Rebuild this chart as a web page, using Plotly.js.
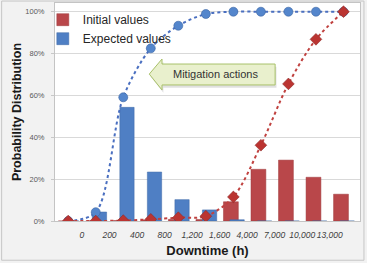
<!DOCTYPE html>
<html>
<head>
<meta charset="utf-8">
<script src="https://cdn.plot.ly/plotly-3.0.1.min.js"></script>
<style>
  html, body { margin: 0; padding: 0; background: #ffffff; }
  #chart { width: 367px; height: 263px; }
</style>
</head>
<body>
<div id="chart"></div>
<script>
// Bin index of each point (0..10); tick labels sit on the boundaries between bins
const binIndex = [0, 1, 2, 3, 4, 5, 6, 7, 8, 9, 10];
const boundaryLabels = ["0", "200", "400", "800", "1,200", "1,600", "4,000", "7,000", "10,000", "13,000"];
const yTickValues = [0, 20, 40, 60, 80, 100];
const yTickLabels = ["0%", "20%", "40%", "60%", "80%", "100%"];

// Probability per bin (%)
const initialValues  = [0, 0, 0.2, 0.5, 0.8, 0.7, 9.2, 24.7, 29.1, 20.9, 12.8];
const expectedValues = [0, 4.3, 54.3, 23.4, 10.2, 5.3, 0.6, 0, 0, 0, 0];

// Cumulative distributions (%)
const initialCumulative  = [0, 0, 0.2, 0.8, 1.6, 2.3, 11.5, 36.2, 65.5, 86.8, 100];
const expectedCumulative = [0, 4.2, 59.1, 82.5, 93.3, 98.9, 100, 100, 100, 100, 100];

const boundaryPositions = boundaryLabels.map((_, i) => i + 0.5);

const RED = '#b9474a';
const BLUE = '#4f7fc4';

const traces = [
  {
    type: 'bar', name: 'Initial values', x: binIndex, y: initialValues,
    width: 0.54, offset: -0.36,
    marker: { color: RED, line: { color: '#9e3a3c', width: 0.5 } },
    hoverinfo: 'skip'
  },
  {
    type: 'bar', name: 'Expected values', x: binIndex, y: expectedValues,
    width: 0.52, offset: -0.125,
    marker: { color: BLUE, line: { color: '#3f68a6', width: 0.5 } },
    hoverinfo: 'skip'
  },
  {
    type: 'scatter', mode: 'lines+markers', name: 'Expected cumulative',
    x: binIndex, y: expectedCumulative, showlegend: false,
    line: { color: '#4a6fc0', width: 2, dash: 'dot', shape: 'spline', smoothing: 0.9 },
    marker: { symbol: 'circle', size: 9, color: '#5486cc', line: { color: '#3b64a3', width: 0.6 } },
    hoverinfo: 'skip'
  },
  {
    type: 'scatter', mode: 'lines+markers', name: 'Initial cumulative',
    x: binIndex, y: initialCumulative, showlegend: false,
    line: { color: '#c0413f', width: 2, dash: 'dot', shape: 'spline', smoothing: 0.9 },
    marker: { symbol: 'diamond', size: 9, color: '#bb3431', line: { color: '#8f2a28', width: 0.6 } },
    hoverinfo: 'skip'
  }
];

const FONT = 'Liberation Sans, Arial, sans-serif';

const layout = {
  width: 367, height: 263,
  margin: { l: 55, r: 7, t: 3, b: 42 },
  paper_bgcolor: '#f2f2f2',
  plot_bgcolor: '#ffffff',
  font: { family: FONT, color: '#404040' },
  barmode: 'overlay',
  showlegend: true,
  legend: {
    x: -0.04, y: 0.99, xanchor: 'left', yanchor: 'top',
    bgcolor: 'rgba(0,0,0,0)', borderwidth: 0,
    font: { size: 12, color: '#262626', family: FONT },
    traceorder: 'normal', tracegroupgap: 0,
    itemwidth: 30
  },
  xaxis: {
    range: [-0.48, 10.6],
    tickmode: 'array', tickvals: boundaryPositions, ticktext: boundaryLabels,
    tickangle: 0,
    tickfont: { size: 8.5, style: 'italic', color: '#404040' },
    ticks: 'outside', ticklen: 6, tickcolor: 'rgba(0,0,0,0)',
    showgrid: false, zeroline: false,
    showline: true, mirror: true, linecolor: '#c4c4c4', linewidth: 1,
    title: { text: 'Downtime (h)', font: { size: 13, weight: 'bold', color: '#1a1a1a' }, standoff: 6 },
    fixedrange: true
  },
  yaxis: {
    range: [0, 104.16],
    tickmode: 'array', tickvals: yTickValues, ticktext: yTickLabels,
    tickfont: { size: 7.5, color: '#595959' },
    ticks: 'outside', ticklen: 3, tickcolor: '#c8c8c8',
    ticklabelstandoff: 5,
    showgrid: true, gridcolor: '#d9d9d9', gridwidth: 1,
    zeroline: false,
    showline: true, mirror: true, linecolor: '#c4c4c4', linewidth: 1,
    title: { text: 'Probability Distribution', font: { size: 12.5, weight: 'bold', color: '#1a1a1a' }, standoff: 0 },
    fixedrange: true
  },
  shapes: [
    // outer chart frame
    { type: 'rect', xref: 'paper', yref: 'paper', x0: -0.175, x1: 1.013, y0: -0.18, y1: 1.009,
      line: { color: '#c6c6c6', width: 1 }, fillcolor: 'rgba(0,0,0,0)', layer: 'below' },
    // "Mitigation actions" arrow callout (shadow + body)
    { type: 'path', xref: 'x', yref: 'y',
      path: 'M 2.995 68.9 L 3.457 76.1 L 3.457 73.7 L 7.566 73.7 L 7.566 63.7 L 3.457 63.7 L 3.457 61.3 Z',
      fillcolor: 'rgba(0,0,0,0.12)', line: { width: 0 }, layer: 'above' },
    { type: 'path', xref: 'x', yref: 'y',
      path: 'M 2.945 70.2 L 3.407 77.4 L 3.407 75.0 L 7.516 75.0 L 7.516 65.0 L 3.407 65.0 L 3.407 62.6 Z',
      fillcolor: '#e9f0cd', line: { color: '#a9c16a', width: 1 }, layer: 'above' }
  ],
  annotations: [
    { text: 'Mitigation actions', xref: 'x', yref: 'y', x: 5.35, y: 70.2,
      showarrow: false, font: { size: 11, color: '#333333', family: FONT },
      xanchor: 'center', yanchor: 'middle' }
  ]
};

Plotly.newPlot('chart', traces, layout, { displayModeBar: false, staticPlot: true });
</script>
</body>
</html>
